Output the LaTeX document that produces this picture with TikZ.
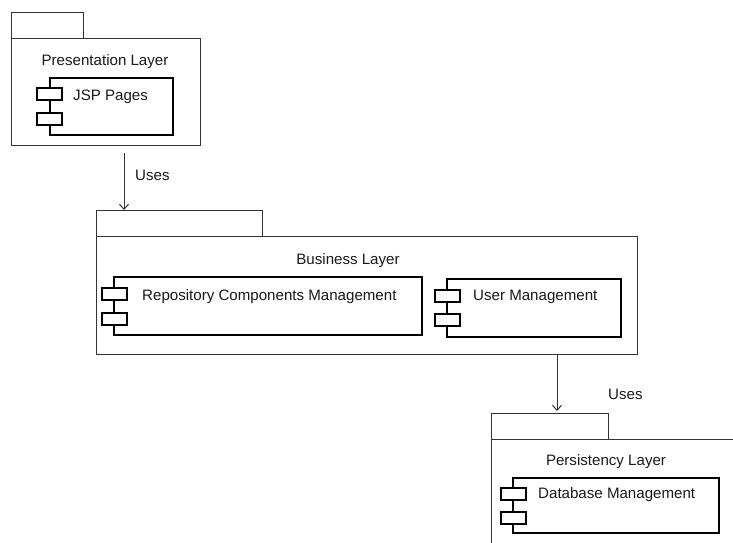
\documentclass[tikz,border=0pt]{standalone}
\usepackage{fontspec}
\setmainfont{Liberation Sans}
\usetikzlibrary{arrows.meta}
\begin{document}
\begin{tikzpicture}[x=1pt,y=-1pt,
  pkg/.style={draw=black!80, line width=1pt, fill=white, anchor=north west, inner sep=0pt, outer sep=0pt},
  comp/.style={draw=black, line width=2pt, anchor=north west, inner sep=0pt, outer sep=0pt},
  port/.style={draw=black, line width=2pt, fill=white, anchor=north west, inner sep=0pt, outer sep=0pt, minimum width=25pt, minimum height=12pt},
  lbl/.style={font=\fontsize{15.1}{18}\selectfont, inner sep=0pt, text=black!90},
  uses/.style={draw=black!80, line width=1pt, -{Straight Barb[length=5pt,width=9pt]}}]
\useasboundingbox (0,0) rectangle (733,543);
\begin{scope}
\clip (0,0) rectangle (733,543);
% Presentation layer
\node[pkg, minimum width=72pt, minimum height=26pt] (ptab0) at (11,13) {};
\node[pkg, minimum width=189pt, minimum height=106pt] (pres) at (11,39) {};
\node[lbl, anchor=base] (presL) at (105,66) {Presentation Layer};
\node[comp, minimum width=123pt, minimum height=57pt] (jsp) at (50,78) {};
\node[port] (jspA) at ([xshift=-13pt,yshift=-10pt]jsp.north west) {};
\node[port] (jspB) at ([xshift=-13pt,yshift=-35pt]jsp.north west) {};
\node[lbl, anchor=base west] (jspL) at (73,100) {JSP Pages};
% Business layer
\node[pkg, minimum width=166pt, minimum height=26pt] (btab) at (96,210) {};
\node[pkg, minimum width=541pt, minimum height=118pt] (bus) at (96,236) {};
\node[lbl, anchor=base] (busL) at (348,264) {Business Layer};
\node[comp, minimum width=308pt, minimum height=58pt] (repo) at (114,277) {};
\node[port] (repoA) at ([xshift=-12pt,yshift=-11pt]repo.north west) {};
\node[port] (repoB) at ([xshift=-12pt,yshift=-36pt]repo.north west) {};
\node[lbl, anchor=base west] (repoL) at (142,300) {Repository Components Management};
\node[comp, minimum width=174pt, minimum height=58pt] (user) at (447,279) {};
\node[port] (userA) at ([xshift=-12pt,yshift=-11pt]user.north west) {};
\node[port] (userB) at ([xshift=-12pt,yshift=-35pt]user.north west) {};
\node[lbl, anchor=base west] (userL) at (473,300) {User Management};
% Persistency layer
\node[pkg, minimum width=117pt, minimum height=26pt] (stab) at (491,413) {};
\node[pkg, minimum width=280pt, minimum height=140pt] (pers) at (491,439) {};
\node[lbl, anchor=base] (persL) at (606,465) {Persistency Layer};
\node[comp, minimum width=206pt, minimum height=55pt] (db) at (513,478) {};
\node[port] (dbA) at ([xshift=-12pt,yshift=-10pt]db.north west) {};
\node[port] (dbB) at ([xshift=-12pt,yshift=-34pt]db.north west) {};
\node[lbl, anchor=base west] (dbL) at (538,498) {Database Management};
% Connectors
\coordinate (u1s) at (124,153);
\draw[uses] (u1s) -- (btab.north -| u1s);
\node[lbl, anchor=base west] (u1L) at (135,180) {Uses};
\coordinate (u2s) at (557,354);
\draw[uses, shorten >=2pt] (u2s) -- (stab.north -| u2s);
\node[lbl, anchor=base west] (u2L) at (608,399) {Uses};
\end{scope}
\end{tikzpicture}
\end{document}
